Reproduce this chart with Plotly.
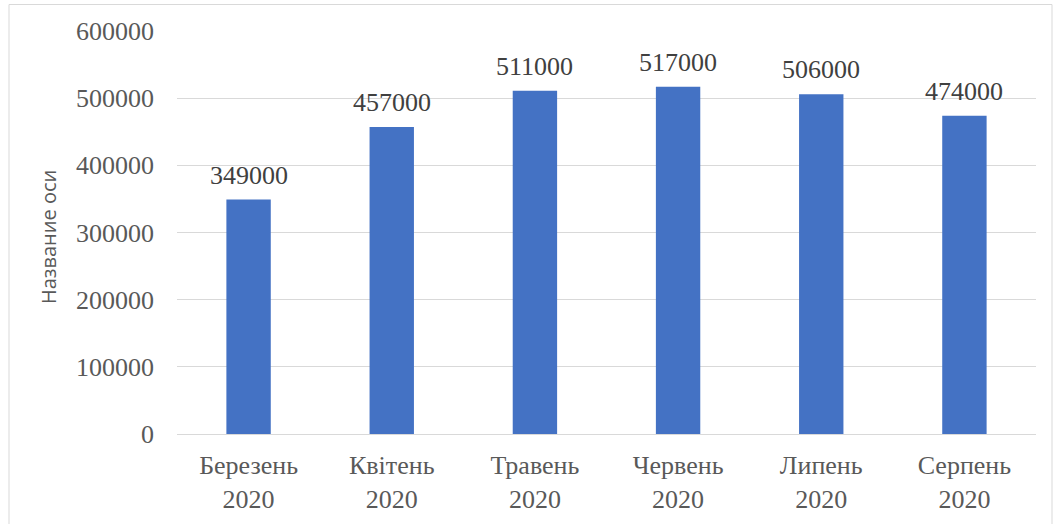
import plotly.graph_objects as go

categories = ["Березень<br>2020", "Квітень<br>2020", "Травень<br>2020",
              "Червень<br>2020", "Липень<br>2020", "Серпень<br>2020"]
values = [349000, 457000, 511000, 517000, 506000, 474000]
tick_vals = [0, 100000, 200000, 300000, 400000, 500000, 600000]
tick_text = ["0", "100000", "200000", "300000", "400000", "500000", "600000"]
axis_title = "Название оси"

W, H = 1063, 524
L, R, T, B = 177, 27, 31, 90
pw, ph = W - L - R, H - T - B

def px(x):
    return (x - L) / pw

def py(y):
    return (H - B - y) / ph

SERIF = "Liberation Serif"
TXT = "#595959"

fig = go.Figure(go.Bar(
    x=categories, y=values,
    marker=dict(color="#4472C4", line=dict(width=0)),
    width=0.31,
    hoverinfo="x+y",
))

for c, v in zip(categories, values):
    fig.add_annotation(x=c, y=v, text=str(v), showarrow=False,
                       yanchor="bottom", yshift=8,
                       font=dict(family=SERIF, size=26, color="#404040"))

fig.update_layout(
    width=W, height=H,
    margin=dict(l=L, r=R, t=T, b=B, autoexpand=False),
    paper_bgcolor="white", plot_bgcolor="white",
    showlegend=False,
    xaxis=dict(
        showgrid=False, showline=True, linecolor="#d9d9d9", linewidth=1,
        ticks="", tickfont=dict(family=SERIF, size=26, color=TXT),
        ticklabelstandoff=8,
    ),
    yaxis=dict(
        range=[0, 600000], tickvals=tick_vals, ticktext=tick_text,
        showgrid=True, gridcolor="#d9d9d9", gridwidth=1,
        zeroline=False, showline=False, ticks="",
        tickfont=dict(family=SERIF, size=26, color=TXT),
        ticklabelstandoff=22,
    ),
    annotations=list(fig.layout.annotations) + [
        dict(text=axis_title, xref="paper", yref="paper", x=px(49), y=py(237),
             xanchor="center", yanchor="middle", textangle=-90, showarrow=False,
             font=dict(family="Open Sans", size=20, color=TXT))
    ],
    shapes=[dict(type="rect", xref="paper", yref="paper",
                 x0=px(9), x1=px(1052), y0=py(530), y1=py(4.5),
                 line=dict(color="#d9d9d9", width=1), fillcolor="rgba(0,0,0,0)", layer="below")],
)

fig.write_html("out.html", config={"displayModeBar": False},
               post_script="document.body.style.margin='0';document.body.style.overflow='hidden';")
